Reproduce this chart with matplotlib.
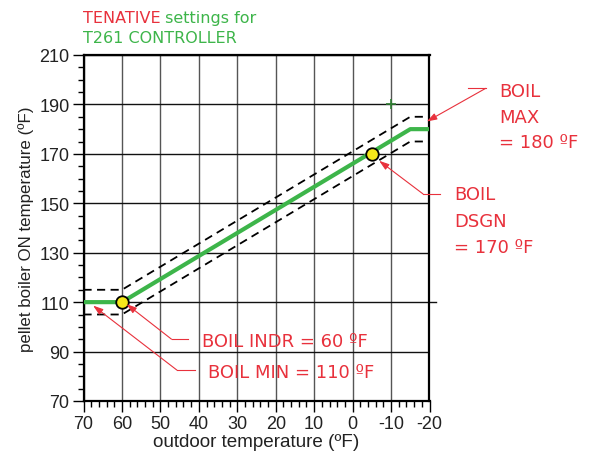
import matplotlib
matplotlib.use("Agg")
import matplotlib.pyplot as plt
from matplotlib.ticker import MultipleLocator
import numpy as np

plt.rcParams["axes.unicode_minus"] = False

# ---- data ----
outdoor = [70, 60, -15, -20]          # outdoor temperature (F)
boiler_on = [110, 110, 180, 180]      # boiler ON temperature (F)
band = 5                               # +/- tolerance band
key_x = [60, -5]                       # marked points
key_y = [110, 170]
plus_x = [-10]
plus_y = [190]
x_ticks = [70, 60, 50, 40, 30, 20, 10, 0, -10, -20]
y_ticks = [70, 90, 110, 130, 150, 170, 190, 210]

RED = "#e8313c"
GREEN = "#3db54a"

fig = plt.figure(figsize=(5.92, 4.56), dpi=100)
ax = fig.add_axes([83.5/592, 1-402/456, (429.5-83.5)/592, (402-56)/456])

ax.set_xlim(70, -20)
ax.set_ylim(70, 210)

# grid
for xv in x_ticks:
    ax.axvline(xv, color="#555555", lw=1.0, zorder=1)
for yv in y_ticks:
    ax.axhline(yv, color="#111111", lw=1.0, zorder=1)
ax.axhline(110, xmin=1.0, xmax=1.018, color="#111111", lw=1.0, clip_on=False)

ox = np.array(outdoor, dtype=float)
oy = np.array(boiler_on, dtype=float)
ax.plot(ox, oy + band, ls=(0, (4.5, 3)), color="black", lw=1.3, zorder=3)
ax.plot(ox, oy - band, ls=(0, (4.5, 3)), color="black", lw=1.3, zorder=3)
ax.plot(ox, oy, color=GREEN, lw=3.0, zorder=4, solid_capstyle="butt")
ax.plot(key_x, key_y, ls="none", marker="o", ms=9, mfc="#f6e71a", mec="black",
        mew=1.3, zorder=5)
ax.plot(plus_x, plus_y, ls="none", marker="+", ms=7, mec="#2f7d32", mew=1.2, zorder=5)

# ticks
ax.set_xticks(x_ticks)
ax.set_yticks(y_ticks)
ax.xaxis.set_minor_locator(MultipleLocator(2))
ax.yaxis.set_minor_locator(MultipleLocator(5))
ax.tick_params(which="major", direction="out", length=8, width=1.0, color="black",
               labelsize=13, pad=2)
ax.tick_params(which="minor", direction="out", length=4, width=1.0, color="black")
for lab in ax.get_xticklabels() + ax.get_yticklabels():
    lab.set_fontfamily("Liberation Sans")
    lab.set_color("#222222")
for s in ax.spines.values():
    s.set_linewidth(1.6)
    s.set_color("black")

ax.set_xlabel("outdoor temperature (ºF)", fontfamily="Liberation Sans", fontsize=13.6,
              color="#222222", labelpad=1)
ax.set_ylabel("pellet boiler ON temperature (ºF)", fontfamily="Liberation Sans",
              fontsize=12.2, color="#222222", labelpad=4)

# title
t1 = fig.text(82.7/592, 1-22.7/456, "TENATIVE", color=RED, fontsize=11.5,
              fontfamily="DejaVu Sans", va="baseline")
ax.annotate(" settings for", xy=(1, 0), xycoords=t1, va="bottom", ha="left",
            color=GREEN, fontsize=11.5, fontfamily="DejaVu Sans")
fig.text(82.7/592, 1-43.3/456, "T261 CONTROLLER", color=GREEN, fontsize=11.5,
         fontfamily="DejaVu Sans", va="baseline")

# annotations: (tip, elbow, horizontal end, text x, text baselines, lines)
def callout(tip, elbow, hend, tx, baselines, lines):
    ax.plot([elbow[0], hend[0]], [elbow[1], elbow[1]], color=RED, lw=0.8,
            clip_on=False, zorder=6)
    ax.annotate("", xy=tip, xytext=elbow, annotation_clip=False,
                arrowprops=dict(arrowstyle="-|>,head_length=0.6,head_width=0.2",
                                color=RED, lw=0.8, shrinkA=0, shrinkB=0), zorder=6)
    for yb, s in zip(baselines, lines):
        ax.text(tx, yb, s, color=RED, fontsize=13, fontfamily="DejaVu Sans",
                va="baseline", ha="left", clip_on=False, zorder=6)

callout((58.8, 109.2), (47.1, 95.0), (42.8, 95.0), 39.3, [92.1], ["BOIL INDR = 60 ºF"])
callout((67.5, 108.6), (45.7, 82.5), (41.0, 82.5), 37.7, [79.6], ["BOIL MIN = 110 ºF"])
callout((-19.3, 183.1), (-34.6, 196.5), (-30.0, 196.5), -38.1,
        [193.3, 182.8, 172.7], ["BOIL", "MAX", "= 180 ºF"])
callout((-6.9, 167.2), (-18.3, 153.8), (-22.7, 153.8), -26.4,
        [151.7, 140.9, 130.4], ["BOIL", "DSGN", "= 170 ºF"])

fig.savefig("out.png", dpi=100)
